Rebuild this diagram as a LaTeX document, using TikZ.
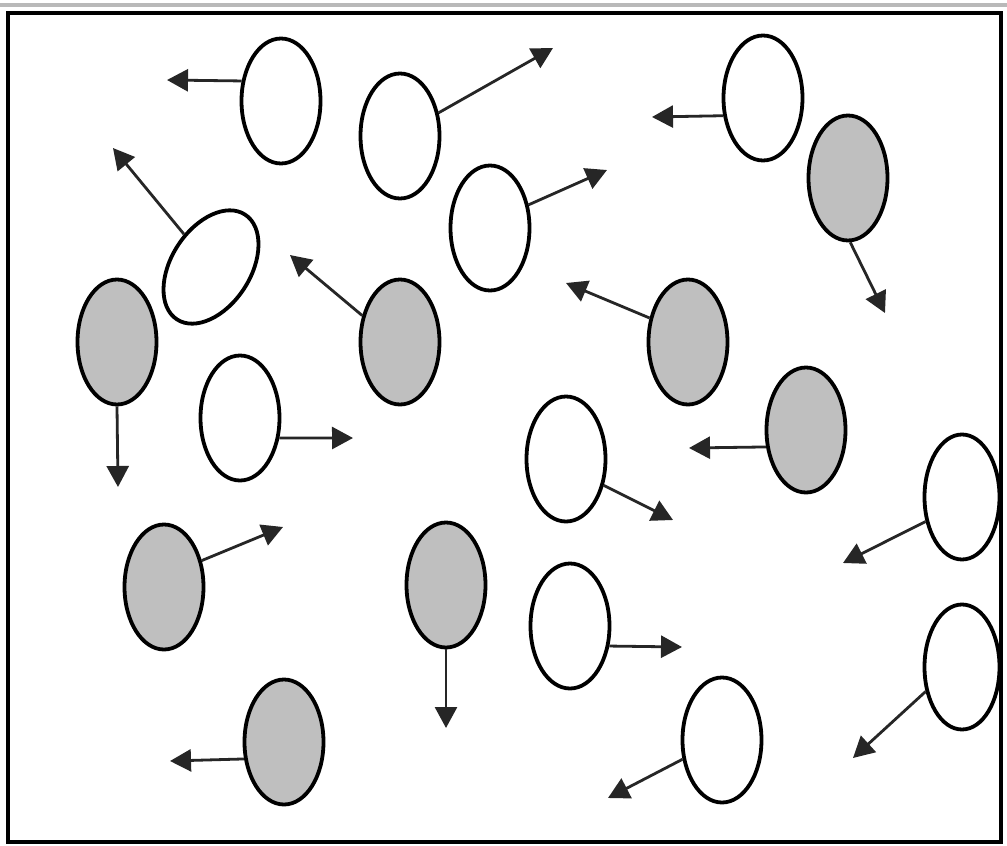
\documentclass[tikz,border=0pt]{standalone}
\usetikzlibrary{shapes.geometric,arrows.meta}
\begin{document}
\begin{tikzpicture}[x=1pt,y=-1pt,
  cell/.style={ellipse,draw=black,line width=3.8pt,minimum width=79pt,minimum height=125pt,inner sep=0pt,fill=white},
  graycell/.style={cell,fill=gray!50},
  move/.style={line width=2.8pt,draw=black!85,-{Triangle[length=21pt,width=22pt]}}]
\useasboundingbox (0,0) rectangle (1007,846);
\fill[white] (0,0) rectangle (1007,846);
\fill[gray!55] (0,2.5) rectangle (1007,6.5);
\draw[line width=4pt] (8,12.5) rectangle (1001,842);

% white cells
\node[cell] (e1) at (281,101) {};
\node[cell] (e2) at (400,136) {};
\node[cell] (e3) at (490,228) {};
\node[cell] (e4) at (763,98) {};
\node[cell,rotate=-33] (e6) at (211,267) {};
\node[cell] (e10) at (240,418) {};
\node[cell] (e12) at (566,459) {};
\node[cell,minimum width=75pt] (e13) at (962,497) {};
\node[cell] (e16) at (570,626) {};
\node[cell,minimum width=75pt] (e17) at (962,667) {};
\node[cell] (e19) at (722,740) {};
% gray cells
\node[graycell] (e5) at (848,178) {};
\node[graycell] (e7) at (117,342) {};
\node[graycell] (e8) at (400,342) {};
\node[graycell] (e9) at (688,342) {};
\node[graycell] (e11) at (806,430) {};
\node[graycell] (e14) at (164,587) {};
\node[graycell] (e15) at (446,585) {};
\node[graycell] (e18) at (284,742) {};

% arrow tips
\coordinate (a1) at (167,80);
\coordinate (a2) at (553,48);
\coordinate (a3) at (607,170);
\coordinate (a4) at (652,117);
\coordinate (a5) at (885,313);
\coordinate (a6) at (113,148);
\coordinate (a7) at (118,487);
\coordinate (a8) at (290,255);
\coordinate (a9) at (566,283);
\coordinate (a10) at (353,438);
\coordinate (a11) at (689,448);
\coordinate (a12) at (673,520);
\coordinate (a13) at (843,563);
\coordinate (a14) at (283,527);
\coordinate (a15) at (446,728);
\coordinate (a16) at (682,647);
\coordinate (a17) at (853,758);
\coordinate (a18) at (170,761);
\coordinate (a19) at (608,798);

\draw[move] (e1.153) -- (a1);
\draw[move] (e2.31) -- (a2);
\draw[move] (e3.31) -- (a3);
\draw[move] (e4.204) -- (a4);
\draw[move] (e5.272) -- (a5);
\draw[move] (e6) -- (a6);
\draw[move] (e7.south) -- (a7);
\draw[move] (e8.145) -- (a8);
\draw[move] (e9.148) -- (a9);
\draw[move] (e10.333) -- (a10);
\draw[move] (e11.203) -- (a11);
\draw[move] (e12.325) -- (a12);
\draw[move] (e13.214) -- (a13);
\draw[move] (e14.35) -- (a14);
\draw[move] (e15.south) -- (a15);
\draw[move] (e16.333) -- (a16);
\draw[move] (e17.214) -- (a17);
\draw[move] (e18.203) -- (a18);
\draw[move] (e19.206) -- (a19);
\end{tikzpicture}
\end{document}
